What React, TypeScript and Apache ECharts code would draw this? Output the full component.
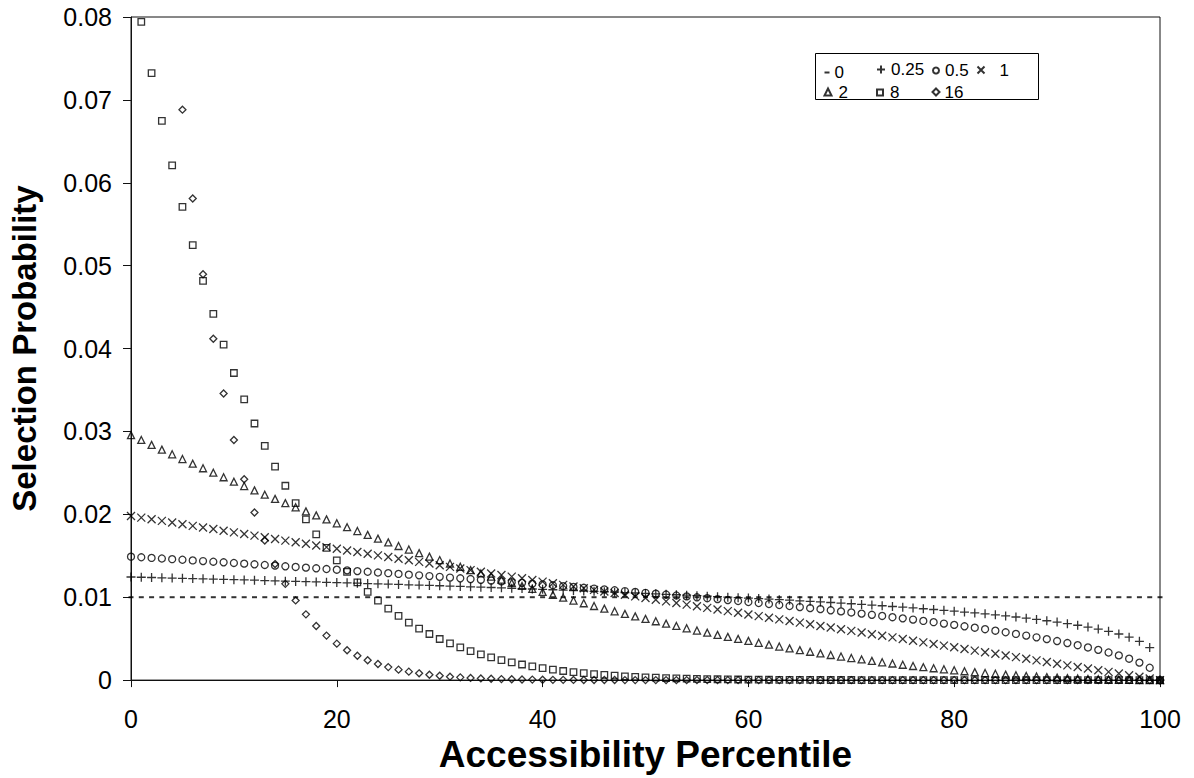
import React, { useEffect, useRef } from "react";
import * as echarts from "echarts";

const PERCENTILE = [
  0, 1, 2, 3, 4, 5, 6, 7, 8, 9, 10, 11, 12, 13, 14, 15, 16, 17, 18, 19, 20,
  21, 22, 23, 24, 25, 26, 27, 28, 29, 30, 31, 32, 33, 34, 35, 36, 37, 38, 39, 40,
  41, 42, 43, 44, 45, 46, 47, 48, 49, 50, 51, 52, 53, 54, 55, 56, 57, 58, 59, 60,
  61, 62, 63, 64, 65, 66, 67, 68, 69, 70, 71, 72, 73, 74, 75, 76, 77, 78, 79, 80,
  81, 82, 83, 84, 85, 86, 87, 88, 89, 90, 91, 92, 93, 94, 95, 96, 97, 98, 99, 100,
];

const P_0 = [
  0.01, 0.01, 0.01, 0.01, 0.01, 0.01, 0.01, 0.01, 0.01, 0.01,
  0.01, 0.01, 0.01, 0.01, 0.01, 0.01, 0.01, 0.01, 0.01, 0.01,
  0.01, 0.01, 0.01, 0.01, 0.01, 0.01, 0.01, 0.01, 0.01, 0.01,
  0.01, 0.01, 0.01, 0.01, 0.01, 0.01, 0.01, 0.01, 0.01, 0.01,
  0.01, 0.01, 0.01, 0.01, 0.01, 0.01, 0.01, 0.01, 0.01, 0.01,
  0.01, 0.01, 0.01, 0.01, 0.01, 0.01, 0.01, 0.01, 0.01, 0.01,
  0.01, 0.01, 0.01, 0.01, 0.01, 0.01, 0.01, 0.01, 0.01, 0.01,
  0.01, 0.01, 0.01, 0.01, 0.01, 0.01, 0.01, 0.01, 0.01, 0.01,
  0.01, 0.01, 0.01, 0.01, 0.01, 0.01, 0.01, 0.01, 0.01, 0.01,
  0.01, 0.01, 0.01, 0.01, 0.01, 0.01, 0.01, 0.01, 0.01, 0.01,
  0.01,
];

const P_025 = [
  0.01244, 0.01241, 0.01238, 0.01234, 0.01231, 0.01228, 0.01225, 0.01222, 0.01218, 0.01215,
  0.01212, 0.01208, 0.01205, 0.01201, 0.01198, 0.01194, 0.01191, 0.01187, 0.01184, 0.0118,
  0.01176, 0.01173, 0.01169, 0.01165, 0.01161, 0.01158, 0.01154, 0.0115, 0.01146, 0.01142,
  0.01138, 0.01134, 0.0113, 0.01125, 0.01121, 0.01117, 0.01113, 0.01108, 0.01104, 0.01099,
  0.01095, 0.0109, 0.01086, 0.01081, 0.01076, 0.01071, 0.01066, 0.01061, 0.01056, 0.01051,
  0.01046, 0.01041, 0.01035, 0.0103, 0.01024, 0.01019, 0.01013, 0.01007, 0.01001, 0.00995,
  0.00989, 0.00983, 0.00977, 0.0097, 0.00964, 0.00957, 0.0095, 0.00943, 0.00936, 0.00928,
  0.00921, 0.00913, 0.00905, 0.00897, 0.00888, 0.0088, 0.00871, 0.00861, 0.00852, 0.00842,
  0.00832, 0.00821, 0.0081, 0.00799, 0.00787, 0.00774, 0.00761, 0.00747, 0.00732, 0.00716,
  0.007, 0.00681, 0.00662, 0.0064, 0.00616, 0.00588, 0.00556, 0.00518, 0.00468, 0.00393,
  0,
];

const P_05 = [
  0.01489, 0.01482, 0.01474, 0.01467, 0.01459, 0.01452, 0.01444, 0.01436, 0.01428, 0.01421,
  0.01413, 0.01405, 0.01397, 0.01389, 0.01381, 0.01373, 0.01365, 0.01357, 0.01349, 0.0134,
  0.01332, 0.01324, 0.01315, 0.01307, 0.01298, 0.0129, 0.01281, 0.01272, 0.01264, 0.01255,
  0.01246, 0.01237, 0.01228, 0.01219, 0.0121, 0.01201, 0.01191, 0.01182, 0.01173, 0.01163,
  0.01154, 0.01144, 0.01134, 0.01124, 0.01114, 0.01104, 0.01094, 0.01084, 0.01074, 0.01064,
  0.01053, 0.01043, 0.01032, 0.01021, 0.0101, 0.00999, 0.00988, 0.00977, 0.00965, 0.00954,
  0.00942, 0.0093, 0.00918, 0.00906, 0.00894, 0.00881, 0.00868, 0.00856, 0.00842, 0.00829,
  0.00816, 0.00802, 0.00788, 0.00774, 0.00759, 0.00745, 0.0073, 0.00714, 0.00699, 0.00682,
  0.00666, 0.00649, 0.00632, 0.00614, 0.00596, 0.00577, 0.00557, 0.00537, 0.00516, 0.00494,
  0.00471, 0.00447, 0.00421, 0.00394, 0.00365, 0.00333, 0.00298, 0.00258, 0.00211, 0.00149,
  0,
];

const P_1 = [
  0.0198, 0.0196, 0.01941, 0.01921, 0.01901, 0.01881, 0.01861, 0.01842, 0.01822, 0.01802,
  0.01782, 0.01762, 0.01743, 0.01723, 0.01703, 0.01683, 0.01663, 0.01644, 0.01624, 0.01604,
  0.01584, 0.01564, 0.01545, 0.01525, 0.01505, 0.01485, 0.01465, 0.01446, 0.01426, 0.01406,
  0.01386, 0.01366, 0.01347, 0.01327, 0.01307, 0.01287, 0.01267, 0.01248, 0.01228, 0.01208,
  0.01188, 0.01168, 0.01149, 0.01129, 0.01109, 0.01089, 0.01069, 0.0105, 0.0103, 0.0101,
  0.0099, 0.0097, 0.0095, 0.00931, 0.00911, 0.00891, 0.00871, 0.00851, 0.00832, 0.00812,
  0.00792, 0.00772, 0.00752, 0.00733, 0.00713, 0.00693, 0.00673, 0.00653, 0.00634, 0.00614,
  0.00594, 0.00574, 0.00554, 0.00535, 0.00515, 0.00495, 0.00475, 0.00455, 0.00436, 0.00416,
  0.00396, 0.00376, 0.00356, 0.00337, 0.00317, 0.00297, 0.00277, 0.00257, 0.00238, 0.00218,
  0.00198, 0.00178, 0.00158, 0.00139, 0.00119, 0.00099, 0.00079, 0.00059, 0.0004, 0.0002,
  0,
];

const P_2 = [
  0.02956, 0.02897, 0.02838, 0.02781, 0.02724, 0.02667, 0.02611, 0.02556, 0.02502, 0.02447,
  0.02394, 0.02341, 0.02289, 0.02237, 0.02186, 0.02135, 0.02085, 0.02036, 0.01987, 0.01939,
  0.01892, 0.01845, 0.01798, 0.01752, 0.01707, 0.01662, 0.01618, 0.01575, 0.01532, 0.0149,
  0.01448, 0.01407, 0.01367, 0.01327, 0.01287, 0.01249, 0.01211, 0.01173, 0.01136, 0.011,
  0.01064, 0.01029, 0.00994, 0.0096, 0.00927, 0.00894, 0.00862, 0.0083, 0.00799, 0.00769,
  0.00739, 0.0071, 0.00681, 0.00653, 0.00625, 0.00598, 0.00572, 0.00546, 0.00521, 0.00497,
  0.00473, 0.0045, 0.00427, 0.00405, 0.00383, 0.00362, 0.00342, 0.00322, 0.00303, 0.00284,
  0.00266, 0.00249, 0.00232, 0.00215, 0.002, 0.00185, 0.0017, 0.00156, 0.00143, 0.0013,
  0.00118, 0.00107, 0.00096, 0.00085, 0.00076, 0.00066, 0.00058, 0.0005, 0.00043, 0.00036,
  0.0003, 0.00024, 0.00019, 0.00014, 0.00011, 0.00007, 0.00005, 0.00003, 0.00001, 0.0,
  0,
];

const P_8 = [
  0.08608, 0.07942, 0.07323, 0.06746, 0.06209, 0.0571, 0.05247, 0.04817, 0.04418, 0.04048,
  0.03705, 0.03388, 0.03096, 0.02825, 0.02576, 0.02345, 0.02134, 0.01939, 0.01759, 0.01595,
  0.01444, 0.01306, 0.01179, 0.01064, 0.00958, 0.00862, 0.00774, 0.00694, 0.00622, 0.00556,
  0.00496, 0.00442, 0.00394, 0.0035, 0.0031, 0.00274, 0.00242, 0.00214, 0.00188, 0.00165,
  0.00145, 0.00126, 0.0011, 0.00096, 0.00083, 0.00072, 0.00062, 0.00054, 0.00046, 0.00039,
  0.00034, 0.00029, 0.00024, 0.0002, 0.00017, 0.00014, 0.00012, 0.0001, 0.00008, 0.00007,
  0.00006, 0.00005, 0.00004, 0.00003, 0.00002, 0.00002, 0.00002, 0.00001, 0.00001, 0.00001,
  0.00001, 0, 0, 0, 0, 0, 0, 0, 0, 0,
  0, 0, 0, 0, 0, 0, 0, 0, 0, 0,
  0, 0, 0, 0, 0, 0, 0, 0, 0, 0,
  0,
];

const P_16 = [
  0.15636, 0.13313, 0.11317, 0.09604, 0.08137, 0.06882, 0.0581, 0.04896, 0.04118, 0.03458,
  0.02897, 0.02423, 0.02022, 0.01684, 0.014, 0.01161, 0.00961, 0.00793, 0.00653, 0.00537,
  0.0044, 0.0036, 0.00294, 0.00239, 0.00194, 0.00157, 0.00126, 0.00102, 0.00082, 0.00065,
  0.00052, 0.00041, 0.00033, 0.00026, 0.0002, 0.00016, 0.00012, 0.0001, 0.00007, 0.00006,
  0.00004, 0.00003, 0.00003, 0.00002, 0.00001, 0.00001, 0.00001, 0.00001, 0, 0,
  0, 0, 0, 0, 0, 0, 0, 0, 0, 0,
  0, 0, 0, 0, 0, 0, 0, 0, 0, 0,
  0, 0, 0, 0, 0, 0, 0, 0, 0, 0,
  0, 0, 0, 0, 0, 0, 0, 0, 0, 0,
  0, 0, 0, 0, 0, 0, 0, 0, 0, 0,
  0,
];

const SERIES_NAMES = ["0", "0.25", "0.5", "1", "2", "8", "16"];
const Y_TICKS_MAX = 0.08;
const X_TICKS_MAX = 100;

const FONT = "'Liberation Sans', Arial, Helvetica, sans-serif";
const PLUS = "path://M5,0L5,10M0,5L10,5";
const CROSS = "path://M0,0L10,10M10,0L0,10";

export default function App() {
  const ref = useRef<HTMLDivElement>(null);

  useEffect(() => {
    if (!ref.current) return;
    const chart = echarts.init(ref.current, null, { renderer: "svg" });

    const hollow = {
      color: "rgba(0,0,0,0)",
      borderColor: "#000",
      borderWidth: 1.3,
    };

    const defs: any[] = [
      { name: SERIES_NAMES[0], data: P_0, symbol: "rect", size: [5, 2], style: { color: "#000", borderWidth: 0 } },
      { name: SERIES_NAMES[1], data: P_025, symbol: PLUS, size: 9, style: hollow },
      { name: SERIES_NAMES[2], data: P_05, symbol: "circle", size: 7, style: hollow },
      { name: SERIES_NAMES[3], data: P_1, symbol: CROSS, size: 8, style: hollow },
      { name: SERIES_NAMES[4], data: P_2, symbol: "triangle", size: 7, style: hollow },
      { name: SERIES_NAMES[5], data: P_8, symbol: "rect", size: 6.5, style: hollow },
      { name: SERIES_NAMES[6], data: P_16, symbol: "diamond", size: 7, style: hollow },
    ];

    const series = defs.map((d) => ({
      type: "scatter",
      name: d.name,
      data: PERCENTILE.map((x, i) => [x, d.data[i]]),
      symbol: d.symbol,
      symbolSize: d.size,
      itemStyle: d.style,
      clip: true,
      silent: true,
      emphasis: { disabled: true },
    }));

    const legendItems = [
      { name: "0", cx: 827, cy: 65, w: 5, h: 2, pad: 0 },
      { name: "0.25", cx: 880, cy: 65, w: 8, h: 8, pad: 1 },
      { name: "0.5", cx: 935, cy: 65, w: 6, h: 6, pad: 1 },
      { name: "1", cx: 980, cy: 65, w: 7, h: 7, pad: 10 },
      { name: "2", cx: 827, cy: 87, w: 7, h: 7, pad: 2 },
      { name: "8", cx: 879, cy: 87, w: 6, h: 6, pad: 2 },
      { name: "16", cx: 935, cy: 87, w: 7, h: 7, pad: 0 },
    ];

    const legend = legendItems.map((it) => ({
      show: true,
      data: [it.name],
      left: it.cx - it.w / 2,
      top: it.cy - it.h / 2,
      itemWidth: it.w,
      itemHeight: it.h,
      padding: 0,
      selectedMode: false,
      orient: "horizontal",
      textStyle: {
        fontFamily: FONT,
        fontSize: 17,
        color: "#000",
        padding: [0, 0, 0, it.pad],
      },
    }));

    const option: any = {
      animation: false,
      backgroundColor: "#fff",
      textStyle: { fontFamily: FONT },
      grid: {
        left: 129,
        top: 17,
        right: 34,
        bottom: 95,
        show: true,
        borderColor: "#111",
        borderWidth: 1,
        backgroundColor: "rgba(0,0,0,0)",
      },
      legend,
      graphic: [
        {
          type: "rect",
          z: 0,
          shape: { x: 815.5, y: 53.5, width: 223, height: 46 },
          style: { fill: "none", stroke: "#000", lineWidth: 1 },
          silent: true,
        },
      ],
      xAxis: {
        type: "value",
        min: 0,
        max: X_TICKS_MAX,
        interval: 20,
        name: "Accessibility Percentile",
        nameLocation: "middle",
        nameGap: 49,
        nameTextStyle: { fontFamily: FONT, fontSize: 37, fontWeight: "bold", color: "#000" },
        axisLine: { show: true, onZero: false, lineStyle: { color: "#111", width: 1 } },
        axisTick: { show: true, inside: false, length: 7, lineStyle: { color: "#111" } },
        axisLabel: { fontFamily: FONT, fontSize: 25, color: "#000", margin: 26 },
        splitLine: { show: false },
      },
      yAxis: {
        type: "value",
        min: 0,
        max: Y_TICKS_MAX,
        interval: 0.01,
        name: "Selection Probability",
        nameLocation: "middle",
        nameRotate: 90,
        nameGap: 90,
        nameTextStyle: { fontFamily: FONT, fontSize: 33, fontWeight: "bold", color: "#000" },
        axisLine: { show: true, onZero: false, lineStyle: { color: "#111", width: 1 } },
        axisTick: { show: true, inside: false, length: 8, lineStyle: { color: "#111" } },
        axisLabel: { fontFamily: FONT, fontSize: 25, color: "#000", margin: 19 },
        splitLine: { show: false },
      },
      series,
    };

    chart.setOption(option);
    return () => chart.dispose();
  }, []);

  return (
    <div
      ref={ref}
      style={{ position: "fixed", left: 0, top: 0, width: 1194, height: 778, background: "#fff" }}
    />
  );
}
